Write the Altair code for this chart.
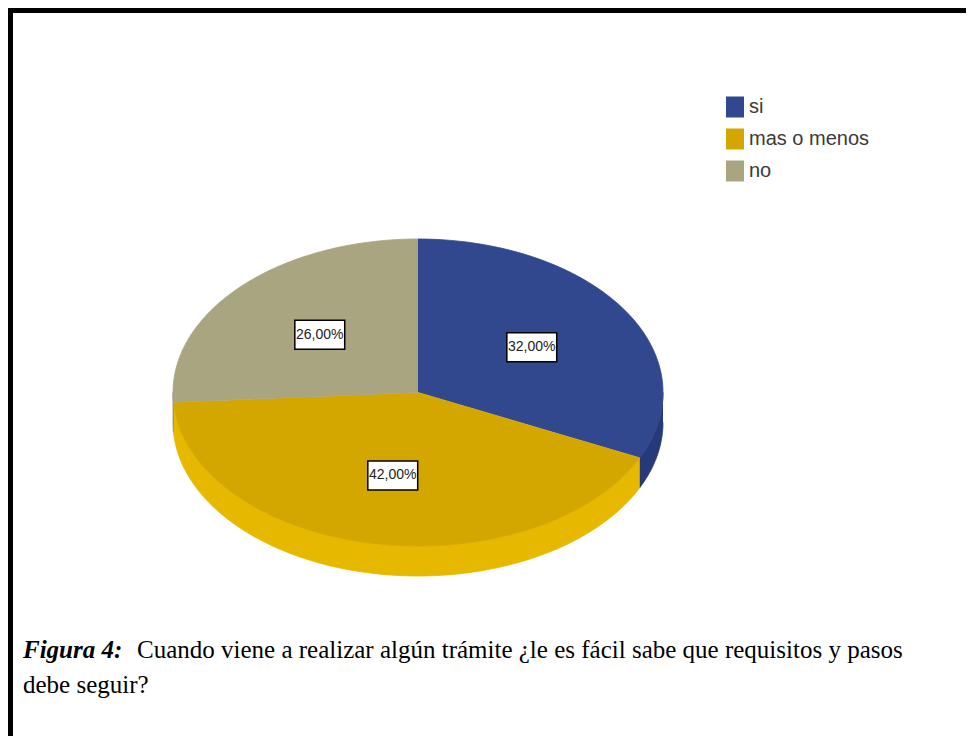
import altair as alt
import pandas as pd

# ---- data ----
categories = ["si", "mas o menos", "no"]
values = [32, 42, 26]
caption_bold = ["Figura 4:"]
caption_line1 = ["Cuando viene a realizar algún trámite ¿le es fácil sabe que requisitos y pasos"]
caption_line2 = ["debe seguir?"]

# ---- styles / layout ----
top_colors = ["#31488f", "#d4a700", "#a9a580"]
side_colors = ["#26397a", "#e6b800", "#8f8b69"]
W, H = 958, 728
CX, CY, RX, RY, DEPTH = 410, 384.5, 245, 153.5, 30
N = 60
SANS = "Liberation Sans, Arial, sans-serif"
SERIF = "Liberation Serif, Times New Roman, serif"

df = pd.DataFrame({"category": categories, "value": values, "idx": range(len(categories))})

xs = alt.Scale(domain=[0, W], range=[0, W])
ys = alt.Scale(domain=[0, H], reverse=True)

base = (
    alt.Chart(df)
    .transform_window(cum="sum(value)", sort=[alt.SortField("idx")], frame=[None, 0])
    .transform_joinaggregate(total="sum(value)")
    .transform_calculate(
        t1="datum.cum / datum.total",
        t0="(datum.cum - datum.value) / datum.total",
    )
)

# side (3D depth) for the front half of the ellipse
side = (
    base.transform_calculate(
        s0="max(datum.t0, 0.25)", s1="min(datum.t1, 0.75)"
    )
    .transform_filter("datum.s1 > datum.s0")
    .transform_calculate(pts=f"sequence(0, {2 * N + 2})")
    .transform_flatten(["pts"])
    .transform_calculate(
        j=f"datum.pts <= {N} ? datum.pts : {2 * N + 1} - datum.pts",
        off=f"datum.pts <= {N} ? 0 : {DEPTH}",
    )
    .transform_calculate(a=f"2 * PI * (datum.s0 + (datum.s1 - datum.s0) * datum.j / {N})")
    .transform_calculate(
        px=f"{CX} + {RX} * sin(datum.a)",
        py=f"{CY} - {RY} * cos(datum.a) + datum.off",
    )
    .mark_line(strokeWidth=0.8, interpolate="linear")
    .encode(
        x=alt.X("px:Q", scale=xs, axis=None),
        y=alt.Y("py:Q", scale=ys, axis=None),
        order=alt.Order("pts:Q"),
        detail="category:N",
        fill=alt.Fill("category:N", scale=alt.Scale(domain=categories, range=side_colors), legend=None),
        stroke=alt.Stroke("category:N", scale=alt.Scale(domain=categories, range=side_colors), legend=None),
    )
)

top = (
    base.transform_calculate(pts=f"sequence(0, {N + 2})")
    .transform_flatten(["pts"])
    .transform_calculate(a=f"2 * PI * (datum.t0 + (datum.t1 - datum.t0) * (datum.pts - 1) / {N})")
    .transform_calculate(
        px=f"datum.pts == 0 ? {CX} : {CX} + {RX} * sin(datum.a)",
        py=f"datum.pts == 0 ? {CY} : {CY} - {RY} * cos(datum.a)",
    )
    .mark_line(strokeWidth=0.8, interpolate="linear")
    .encode(
        x=alt.X("px:Q", scale=xs, axis=None),
        y=alt.Y("py:Q", scale=ys, axis=None),
        order=alt.Order("pts:Q"),
        detail="category:N",
        fill=alt.Fill(
            "category:N",
            scale=alt.Scale(domain=categories, range=top_colors),
            sort=categories,
            legend=alt.Legend(
                title=None,
                orient="none",
                legendX=716.5,
                legendY=88.5,
                symbolType="M-0.857,-1L0.857,-1L0.857,1L-0.857,1Z",
                symbolSize=441,
                symbolStrokeWidth=0,
                symbolOpacity=1,
                labelFont=SANS,
                labelFontSize=20,
                labelColor="#3a3a3a",
                labelOffset=3.5,
                rowPadding=11,
                padding=0,
            ),
        ),
        stroke=alt.Stroke("category:N", scale=alt.Scale(domain=categories, range=top_colors), legend=None),
    )
)

lab = base.transform_calculate(
    m="2 * PI * (datum.t0 + datum.t1) / 2",
).transform_calculate(
    lx=f"{CX} + 0.55 * {RX} * sin(datum.m)",
    ly=f"{CY} - 0.55 * {RY} * cos(datum.m)",
    txt="replace(format(datum.value, '.2f'), '.', ',') + '%'",
)

boxes = lab.mark_point(
    shape="M-1.72,-1L1.72,-1L1.72,1L-1.72,1Z",
    size=841,
    filled=True,
    fill="white",
    stroke="black",
    strokeWidth=1.5,
    opacity=1,
).encode(
    x=alt.X("lx:Q", scale=xs, axis=None),
    y=alt.Y("ly:Q", scale=ys, axis=None),
)

texts = lab.mark_text(font=SANS, fontSize=14, color="#222222", baseline="middle", align="center").encode(
    x=alt.X("lx:Q", scale=xs, axis=None),
    y=alt.Y("ly:Q", scale=ys, axis=None),
    text="txt:N",
)

one = pd.DataFrame({"b": caption_bold, "l1": caption_line1, "l2": caption_line2})

cap_b = alt.Chart(one).mark_text(
    font=SERIF, fontSize=25, fontWeight="bold", fontStyle="italic", align="left", baseline="alphabetic", color="black"
).encode(x=alt.value(15), y=alt.value(650), text="b:N")
cap_1 = alt.Chart(one).mark_text(
    font=SERIF, fontSize=25, align="left", baseline="alphabetic", color="black"
).encode(x=alt.value(129), y=alt.value(650), text="l1:N")
cap_2 = alt.Chart(one).mark_text(
    font=SERIF, fontSize=25, align="left", baseline="alphabetic", color="black"
).encode(x=alt.value(15), y=alt.value(685), text="l2:N")

border_left = alt.Chart(one).mark_rule(color="black", strokeWidth=5).encode(
    x=alt.value(2.5), y=alt.value(0), y2=alt.value(H)
)
border_top = alt.Chart(one).mark_rule(color="black", strokeWidth=5).encode(
    y=alt.value(2.5), x=alt.value(0), x2=alt.value(W)
)

chart = (
    alt.layer(side, top, boxes, texts, cap_b, cap_1, cap_2, border_left, border_top)
    .resolve_scale(fill="independent", stroke="independent")
    .properties(width=W, height=H, padding=0, autosize=alt.AutoSizeParams(type="none"), background="white")
    .configure_view(stroke=None)
)

chart.save("out.html", embed_options={"renderer": "svg", "actions": False})
